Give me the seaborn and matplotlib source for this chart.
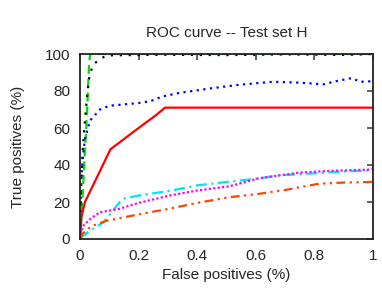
import numpy as np
import matplotlib
matplotlib.use("Agg")
import matplotlib.pyplot as plt
import seaborn as sns
import pandas as pd

# ROC curves (false positives, true positives %)
green_x = [0, 0.008, 0.016, 0.022, 0.027, 0.031, 0.035, 0.2, 0.4, 0.6, 0.8, 1.0]
green_y = [0, 20, 45, 62, 80, 95, 100, 100, 100, 100, 100, 100]

black_x = [0, 0.003, 0.01, 0.02, 0.03, 0.04, 0.05, 0.08, 0.1, 0.3, 0.5, 0.7, 0.9, 1.0]
black_y = [0, 25, 50, 70, 86, 92, 95, 98.3, 99.3, 99.6, 99.4, 99.8, 99.5, 100]

blue_x = [0, 0.003, 0.01, 0.017, 0.034, 0.068, 0.1, 0.2, 0.24, 0.28, 0.34, 0.45, 0.55, 0.66,
          0.75, 0.83, 0.88, 0.925, 0.96, 1.0]
blue_y = [0, 30, 45, 54, 64, 70, 72, 73.5, 74.5, 77, 79, 81.5, 83.5, 85, 84.5, 83.6, 85.5, 86.9,
          85, 85.3]

red_x = [0, 0.005, 0.017, 0.104, 0.15, 0.2, 0.26, 0.29, 1.0]
red_y = [0, 12, 20, 48.5, 54, 60, 67, 71, 71]

cyan_x = [0, 0.005, 0.03, 0.08, 0.136, 0.153, 0.2, 0.306, 0.4, 0.51, 0.6, 0.68, 0.8, 0.9, 0.986, 1.0]
cyan_y = [0, 1, 4, 9, 20, 22, 23.5, 26, 29, 31, 32.5, 34.4, 35.5, 36.5, 37, 37.2]

magenta_x = [0, 0.01, 0.04, 0.068, 0.136, 0.2, 0.306, 0.4, 0.51, 0.61, 0.75, 0.85, 0.986, 1.0]
magenta_y = [0, 7, 11.5, 14.4, 16.4, 19.5, 23.5, 26.2, 28.5, 32.8, 35.9, 36.8, 37.5, 37.8]

orange_x = [0, 0.01, 0.04, 0.09, 0.19, 0.306, 0.4, 0.51, 0.61, 0.7, 0.816, 0.9, 0.986, 1.0]
orange_y = [0, 3, 7, 9.8, 13, 16.4, 19.5, 22.6, 24.4, 26.5, 29.9, 30.5, 30.8, 31]

series = [
    (green_x, green_y, "#00dd00", (0, (4, 2.2))),
    (black_x, black_y, "black", (0, (1, 3))),
    (blue_x, blue_y, "#0000ff", (0, (1, 2))),
    (red_x, red_y, "#ff0000", "-"),
    (cyan_x, cyan_y, "#00e5ee", (0, (5, 2, 1, 2))),
    (magenta_x, magenta_y, "#ff00ff", (0, (1, 1))),
    (orange_x, orange_y, "#ff4500", (0, (4, 2, 1, 2, 1, 2))),
]

sns.set_style("white")
plt.rcParams["font.family"] = ["Liberation Sans", "DejaVu Sans"]

fig = plt.figure(figsize=(3.82, 2.95), dpi=100)
ax = fig.add_axes([80 / 382, 1 - 239 / 295, 293 / 382, 185 / 295])

for xs, ys, col, ls in series:
    sns.lineplot(x=xs, y=ys, ax=ax, color=col, linestyle=ls, linewidth=1.6,
                 sort=False, estimator=None, errorbar=None)

ax.set_xlim(0, 1)
ax.set_ylim(0, 100)
ax.set_xticks([0, 0.2, 0.4, 0.6, 0.8, 1])
ax.set_xticklabels(["0", "0.2", "0.4", "0.6", "0.8", "1"])
ax.set_yticks([0, 20, 40, 60, 80, 100])
ax.tick_params(direction="in", length=4, width=1.2, color="#444444",
               top=True, right=True, labelsize=11, pad=7)
for sp in ax.spines.values():
    sp.set_linewidth(1.3)
    sp.set_color("#222222")

ax.set_title("ROC curve -- Test set H", fontsize=11, pad=12)
ax.set_xlabel("False positives (%)", fontsize=11, labelpad=4)
ax.set_ylabel("True positives (%)", fontsize=11, labelpad=14)

fig.savefig("out.png", dpi=100)
